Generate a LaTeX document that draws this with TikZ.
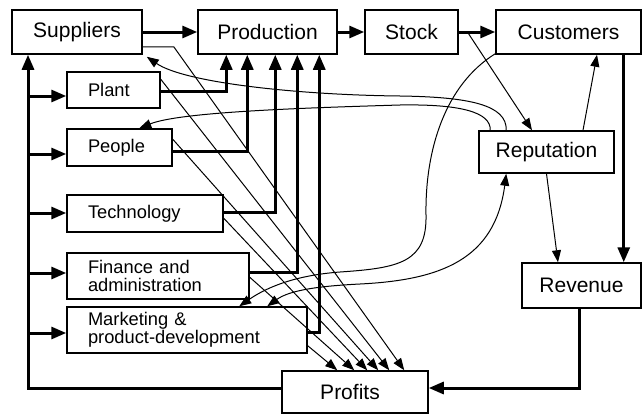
\documentclass[tikz,border=0pt]{standalone}
\usepackage{fontspec}
\setmainfont{Liberation Sans}
\usetikzlibrary{arrows.meta,calc}
\begin{document}
\begin{tikzpicture}[x={(1pt,0pt)},y={(0pt,-1pt)},
  box/.style={draw, line width=1.5pt, inner sep=0pt, font=\fontsize{21}{24}\selectfont},
  sbox/.style={draw, line width=1.5pt, inner xsep=21pt, inner ysep=0pt, align=left,
               font=\fontsize{18.3}{18}\selectfont},
  thk/.style={line width=3pt, -{Triangle[length=15pt,width=12pt]}},
  thn/.style={line width=1pt, -{Triangle[length=12pt,width=9pt]}},
  thnboth/.style={line width=1pt, {Triangle[length=12pt,width=9pt]}-{Triangle[length=12pt,width=9pt]}},
]
\fill[white] (0,0) rectangle (643,415);
\useasboundingbox (0,0) rectangle (643,415);

% boxes
\node[box, minimum width=130pt, minimum height=44pt] (sup) at (77,32) {Suppliers};
\node[box, minimum width=139pt, minimum height=44pt] (prod) at (267.5,32) {Production};
\node[box, minimum width=93pt, minimum height=44pt] (stock) at (411.5,32) {Stock};
\node[box, minimum width=145pt, minimum height=44pt] (cust) at (568.5,32) {Customers};
\node[sbox, text width=51pt, minimum height=36pt] (plant) at (113.5,90) {Plant};
\node[sbox, text width=63pt, minimum height=37pt] (people) at (119.5,147.5) {People};
\node[sbox, text width=114pt, minimum height=37pt] (tech) at (145,213.5) {Technology};
\node[sbox, text width=140pt, minimum height=46pt] (fin) at (158,276) {Finance and\\administration};
\node[sbox, text width=198pt, minimum height=46pt] (mkt) at (187,330) {Marketing \&\\product-development};
\node[box, minimum width=135pt, minimum height=42pt] (rep) at (546.5,152) {Reputation};
\node[box, minimum width=119pt, minimum height=45pt] (rev) at (581.5,285.5) {Revenue};
\node[box, minimum width=146pt, minimum height=42pt, inner xsep=0pt, text width=136pt, align=center] (prof) at (355,392) {\hspace*{-10pt}Profits};

% main flow
\draw[thk] (sup.east) -- (prod.west);
\draw[thk] (prod.east) -- (stock.west);
\draw[thk] (stock.east) -- (cust.west);

% profits fed back to suppliers and the internal resources
\coordinate (tb) at (28,388);
\draw[thk] ([yshift=4pt]prof.west) -- (tb) -- (tb |- sup.south);
\foreach \n/\y in {plant/96, people/154, tech/213, fin/273, mkt/333}{
  \coordinate (br) at (28,\y);
  \draw[thk] (br) -- (br -| \n.west);
}

% resources into production
\draw[thk] ($(plant.east)+(0,1)$) -| ($(prod.south west)+(29,0)$);
\draw[thk] ($(people.east)+(0,3.5)$) -| ($(prod.south west)+(50,0)$);
\draw[thk] ($(tech.east)+(0,-1.5)$) -| ($(prod.south west)+(78,0)$);
\draw[thk] ($(fin.east)+(0,-4)$) -| ($(prod.south west)+(100,0)$);
\draw[thk] ($(mkt.east)+(0,2)$) -| ($(prod.south west)+(122,0)$);

% customers -> revenue -> profits
\coordinate (cr) at ($(cust.south east)+(-18,0)$);
\draw[thk] (cr) -- (cr |- rev.north);
\coordinate (rv) at ($(rev.south)+(-2.5,0)$);
\draw[thk] (rv) |- ([yshift=4pt]prof.east);

% costs into profits
\draw[thn] ($(sup.south east)+(0,-8)$) -- ++(31,0) -- ($(prof.north west)+(123,0)$);
\draw[thn] ($(plant.north east)+(0,8)$) -- ($(prof.north west)+(108,0)$);
\draw[thn] ($(people.north east)+(0,11)$) -- ($(prof.north west)+(97,0)$);
\draw[thn] ($(tech.north east)+(0,24)$) -- ($(prof.north west)+(86,0)$);
\draw[thn] ($(fin.north east)+(0,25)$) -- ($(prof.north west)+(73,0)$);
\draw[thn] ($(mkt.south east)+(0,-8)$) -- ($(prof.north west)+(56,0)$);

% reputation links
\draw[thn] ($(stock.east)+(10,2)$) -- ($(rep.north)+(-14.5,0)$);
\draw[thn] ($(rep.north)+(36.5,0)$) -- ($(cust.south)+(28.5,0)$);
\draw[thn] (rep.south) -- ($(rev.north)+(-23.5,0)$);

% feedback curves
\draw[thn] ($(rep.north west)+(28,0)$) .. controls (507,105) and (470,97) .. (400,96)
  .. controls (300,95) and (185,83) .. ($(sup.south east)+(4,2)$);
\draw[thn] ($(rep.north west)+(12,0)$) .. controls (491,112) and (460,104) .. (400,105)
  .. controls (300,108) and (180,112) .. ($(people.north west)+(73,0)$);
\draw[thn] ($(cust.south west)+(0,-1)$) .. controls (445,85) and (425,150) .. (426,215)
  .. controls (427,262) and (400,268) .. (340,272)
  .. controls (300,275) and (270,285) .. ($(mkt.north west)+(173,0)$);
\draw[thnboth] ($(mkt.north west)+(201,0)$) .. controls (290,290) and (320,286) .. (360,284)
  .. controls (440,280) and (495,260) .. ($(rep.south west)+(28,0)$);
\end{tikzpicture}
\end{document}
